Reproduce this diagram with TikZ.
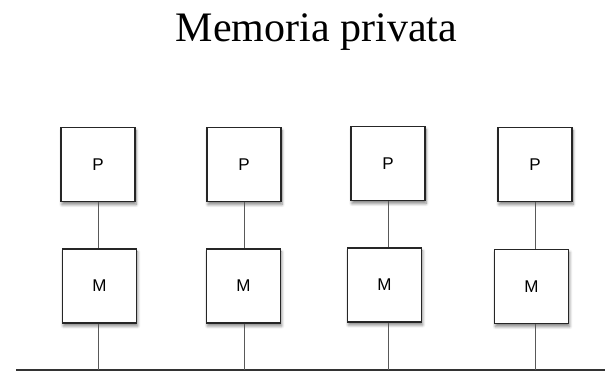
\documentclass[tikz,border=0pt]{standalone}
\usepackage{fontspec}
\setmainfont{Liberation Serif}
\newfontfamily\labelfont{Liberation Sans}
\usetikzlibrary{shadows.blur}
\begin{document}
\begin{tikzpicture}[x=1pt,y=1pt,
  unit/.style={draw=black!85, line width=1.3pt, fill=white,
    minimum width=74pt, minimum height=74pt, inner sep=0pt,
    font=\labelfont\fontsize{17}{20}\selectfont,
    blur shadow={shadow xshift=1pt, shadow yshift=-3pt,
      shadow blur steps=6, shadow blur radius=3pt, shadow opacity=50}},
  link/.style={draw=black!65, line width=1pt},
  bus/.style={draw=black!80, line width=1.7pt}]
\useasboundingbox (0,0) rectangle (605,380);

% title
\node[font=\fontsize{42}{50}\selectfont, anchor=base, inner sep=0pt] (title)
  at (316.5,338) {Memoria privata};

% processors and their private memories
\node[unit] (p1) at (98,215.5)  {P};
\node[unit] (m1) at (99.5,94)   {M};
\node[unit] (p2) at (244,215.5) {P};
\node[unit] (m2) at (243.5,94)  {M};
\node[unit] (p3) at (388,216.5) {P};
\node[unit] (m3) at (384.5,95)  {M};
\node[unit] (p4) at (535,215.5) {P};
\node[unit] (m4) at (531.5,93.5){M};

% shared bus
\coordinate (busL) at (16,10);
\coordinate (busR) at (605,10);
\draw[bus] (busL) -- (busR);

% links: processor to memory, memory to bus
\foreach \i in {1,2,3,4}{
  \draw[link] (p\i.south) -- (p\i.south |- m\i.north);
  \draw[link] (p\i.south |- m\i.south) -- (p\i.south |- busL);
}
\end{tikzpicture}
\end{document}
